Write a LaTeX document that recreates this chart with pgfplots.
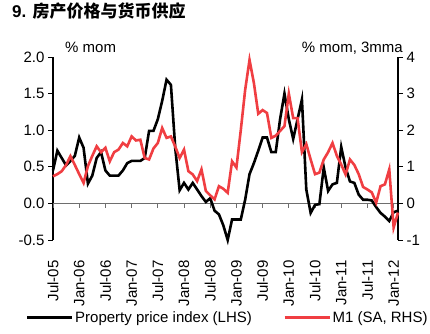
\documentclass[border=0pt]{standalone}
\usepackage{pgfplots}
\pgfplotsset{compat=1.18}
\usepackage{pgfplotstable}
\usepackage{fontspec}
\setmainfont{Liberation Sans}
\newfontfamily\cjk{Noto Sans CJK SC}
\definecolor{mred}{RGB}{240,62,66}
\definecolor{zgray}{RGB}{110,110,110}

\pgfplotstableread{
m v
0 0.45
1 0.72
2 0.62
3 0.52
4 0.58
5 0.65
6 0.90
7 0.76
8 0.27
9 0.38
10 0.62
11 0.70
12 0.45
13 0.38
14 0.38
15 0.38
16 0.45
17 0.55
18 0.58
19 0.58
20 0.58
21 0.62
22 0.99
23 0.99
24 1.15
25 1.40
26 1.69
27 1.62
28 0.75
29 0.18
30 0.28
31 0.19
32 0.28
33 0.19
34 0.10
35 0.02
36 0.07
37 -0.10
38 -0.15
39 -0.30
40 -0.50
41 -0.22
42 -0.22
43 -0.22
44 0.05
45 0.40
46 0.55
47 0.72
48 0.90
49 0.90
50 0.70
51 0.70
52 1.15
53 1.50
54 1.15
55 0.88
56 1.15
57 1.42
58 0.19
59 -0.13
60 -0.02
61 -0.01
62 0.49
63 0.17
64 0.26
65 0.28
66 0.77
67 0.49
68 0.30
69 0.28
70 0.12
71 0.05
72 0.05
73 0.04
74 -0.05
75 -0.13
76 -0.18
77 -0.24
78 -0.12
79 -0.10
}\ppi

\pgfplotstableread{
m v
0 0.74
1 0.80
2 0.88
3 1.05
4 1.29
5 1.05
6 0.80
7 0.56
8 1.02
9 1.30
10 1.56
11 1.40
12 1.52
13 1.15
14 1.40
15 1.47
16 1.65
17 1.56
18 1.83
19 1.72
20 1.74
21 1.24
22 1.20
23 1.50
24 1.65
25 2.06
26 1.79
27 1.83
28 1.55
29 1.24
30 1.47
31 0.88
32 0.79
33 0.61
34 0.93
35 0.34
36 0.22
37 0.11
38 0.47
39 0.40
40 0.29
41 1.15
42 0.98
43 2.00
44 3.10
45 3.92
46 3.29
47 2.45
48 2.55
49 2.47
50 1.79
51 1.85
52 1.98
53 2.11
54 3.00
55 2.33
56 2.33
57 1.40
58 1.62
59 1.20
60 0.80
61 0.84
62 1.20
63 1.40
64 1.65
65 1.30
66 1.06
67 0.79
68 1.20
69 1.05
70 0.80
71 0.45
72 0.38
73 0.30
74 0.02
75 0.47
76 0.52
77 0.93
78 -0.66
79 -0.25
}\mone

\begin{document}
\begin{tikzpicture}[font=\fontsize{15}{18}\selectfont]
\path[use as bounding box] (0,0) rectangle (430pt,333pt);
\node[anchor=base west, inner sep=0pt, font=\fontsize{17}{20}\selectfont\bfseries] at (12pt,316pt) {9. {\cjk\bfseries 房产价格与货币供应}};
\node[anchor=base west, inner sep=0pt] at (65pt,281pt) {\% mom};
\node[anchor=base east, inner sep=0pt] at (403pt,281pt) {\% mom, 3mma};

\begin{axis}[
  scale only axis, width=345pt, height=183pt,
  at={(53pt,93pt)}, anchor=south west,
  xmin=0, xmax=79, ymin=-0.5, ymax=2,
  axis y line*=left, axis x line*=bottom,
  x axis line style={draw=none},
  y axis line style={line width=1.2pt},
  xtick={0,6,...,78},
  xticklabels={Jul-05,Jan-06,Jul-06,Jan-07,Jul-07,Jan-08,Jul-08,Jan-09,Jul-09,Jan-10,Jul-10,Jan-11,Jul-11,Jan-12},
  xtick style={draw=none},
  xticklabel style={rotate=90, anchor=east, xshift=-17pt},
  ytick={-0.5,0,0.5,1,1.5,2},
  ytick align=outside, ytick style={line width=1pt, black},
  major tick length=5pt,
  yticklabel style={/pgf/number format/.cd, fixed, fixed zerofill, precision=1, assume math mode=true},
  xticklabel style={/pgf/number format/assume math mode=true},
  clip=false,
]
\draw[zgray, line width=1.3pt] (axis cs:0,0) -- (axis cs:79,0);
\pgfplotsinvokeforeach{0,6,...,78}{
  \draw[zgray, line width=1pt] (axis cs:#1,0) -- ++(0pt,-5pt);
}
\addplot[black, line width=2.6pt, line join=miter] table[x=m,y=v] {\ppi};
\end{axis}

\begin{axis}[
  scale only axis, width=345pt, height=183pt,
  at={(53pt,93pt)}, anchor=south west,
  xmin=0, xmax=79, ymin=-1, ymax=4,
  axis y line*=right, axis x line=none,
  y axis line style={-, line width=1.2pt},
  ytick={-1,0,...,4},
  ytick align=outside, ytick style={line width=1pt, black},
  major tick length=5pt,
  yticklabel style={/pgf/number format/assume math mode=true},
  legend style={at={(0.506,-0.425)}, anchor=center, draw=none, fill=none,
    legend columns=2, /tikz/every even column/.append style={column sep=30pt},
    nodes={inner sep=1.5pt}},
  legend image code/.code={\draw[#1, line width=2.6pt] (0pt,0pt) -- (45pt,0pt);},
  clip=false,
]
\addlegendimage{black}
\addlegendentry{Property price index (LHS)}
\addplot[mred, line width=2.6pt, line join=miter] table[x=m,y=v] {\mone};
\addlegendentry{M1 (SA, RHS)}
\end{axis}
\end{tikzpicture}
\end{document}
